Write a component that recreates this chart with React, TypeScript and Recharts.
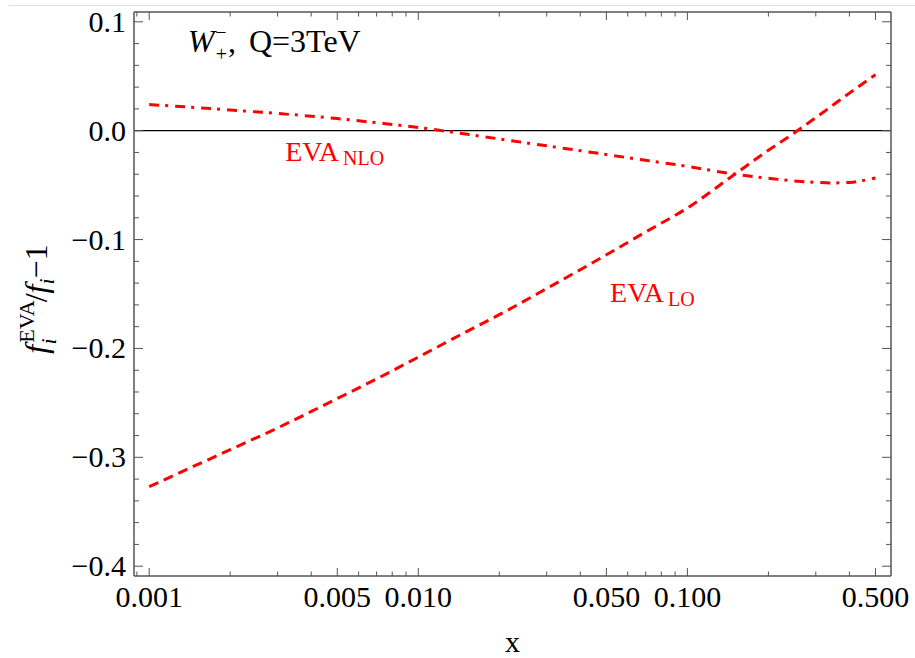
import {
  LineChart,
  Line,
  XAxis,
  YAxis,
  ReferenceLine,
  ReferenceDot,
} from 'recharts';

// x values (log axis) and the two ratio curves
const xs = [0.001, 0.0015, 0.002, 0.003, 0.005, 0.007, 0.01, 0.015, 0.02, 0.03, 0.05, 0.07, 0.1, 0.15, 0.2, 0.25, 0.3, 0.35, 0.4, 0.5];
const evaLO = [-0.327, -0.307, -0.293, -0.273, -0.246, -0.228, -0.208, -0.185, -0.169, -0.145, -0.114, -0.093, -0.071, -0.04, -0.018, -0.002, 0.012, 0.024, 0.0345, 0.0514];
const evaNLO = [0.024, 0.0212, 0.019, 0.0158, 0.0111, 0.0073, 0.003, -0.0031, -0.0076, -0.0139, -0.0219, -0.0272, -0.0328, -0.04, -0.0437, -0.0462, -0.0475, -0.048, -0.0475, -0.0434];

const xTicks = [
  0.0009, 0.001, 0.002, 0.003, 0.004, 0.005, 0.006, 0.007, 0.008, 0.009,
  0.01, 0.02, 0.03, 0.04, 0.05, 0.06, 0.07, 0.08, 0.09,
  0.1, 0.2, 0.3, 0.4, 0.5,
];
const xMajor = [0.001, 0.005, 0.01, 0.05, 0.1, 0.5];
const xMajorLabels = ['0.001', '0.005', '0.010', '0.050', '0.100', '0.500'];

const yTicks = [-0.4, -0.38, -0.36, -0.34, -0.32, -0.3, -0.28, -0.26, -0.24, -0.22, -0.2, -0.18, -0.16, -0.14, -0.12, -0.1, -0.08, -0.06, -0.04, -0.02, 0, 0.02, 0.04, 0.06, 0.08, 0.1];
const yMajor = [-0.4, -0.3, -0.2, -0.1, 0, 0.1];
const yMajorLabels = ['\u22120.4', '\u22120.3', '\u22120.2', '\u22120.1', '0.0', '0.1'];

const data = xs.map((x, i) => ({ x, lo: evaLO[i], nlo: evaNLO[i] }));

const FONT = '"Liberation Serif", "DejaVu Serif", serif';
const FRAME = '#555';
const RED = '#ff0000';

function makeXTick(side: 'bottom' | 'top') {
  return (props: any) => {
    const { x, y, payload } = props;
    const idx = xMajor.indexOf(payload.value);
    const len = idx >= 0 ? 8 : 4.5;
    const dir = side === 'bottom' ? -1 : 1;
    return (
      <g>
        <line x1={x} x2={x} y1={y} y2={y + dir * len} stroke={FRAME} strokeWidth={1} />
        {side === 'bottom' && idx >= 0 && (
          <text x={x} y={y + 31} textAnchor="middle" fontFamily={FONT} fontSize={30} fill="#000">
            {xMajorLabels[idx]}
          </text>
        )}
      </g>
    );
  };
}

function makeYTick(side: 'left' | 'right') {
  return (props: any) => {
    const { x, y, payload } = props;
    const idx = yMajor.indexOf(payload.value);
    const len = idx >= 0 ? 9 : 5;
    const dir = side === 'left' ? 1 : -1;
    return (
      <g>
        <line x1={x} x2={x + dir * len} y1={y} y2={y} stroke={FRAME} strokeWidth={1} />
        {side === 'left' && idx >= 0 && (
          <text x={x - 8} y={y + 10} textAnchor="end" fontFamily={FONT} fontSize={30} fill="#000">
            {yMajorLabels[idx]}
          </text>
        )}
      </g>
    );
  };
}

export default function App() {
  return (
    <div style={{ position: 'absolute', left: 0, top: 0, width: 915, height: 658, background: '#fff' }}>
      <div style={{ position: 'absolute', left: 9, right: 0, top: 5, borderTop: '1px solid #ddd' }} />
      <LineChart
        width={915}
        height={658}
        data={data}
        margin={{ top: 2, right: 14, bottom: 42, left: 74 }}
      >
        <XAxis
          dataKey="x"
          type="number"
          scale="log"
          domain={[0.000878, 0.571]}
          allowDataOverflow
          ticks={xTicks}
          interval={0}
          height={40}
          tickSize={0}
          tickMargin={0}
          tickLine={false}
          axisLine={{ stroke: FRAME, strokeWidth: 1.5 }}
          tick={makeXTick('bottom')}
          label={{
            content: (p: any) => (
              <text
                x={p.viewBox.x + p.viewBox.width / 2}
                y={p.viewBox.y + 76}
                textAnchor="middle"
                fontFamily={FONT}
                fontSize={30}
                fill="#000"
              >
                x
              </text>
            ),
          }}
        />
        <XAxis
          xAxisId="top"
          orientation="top"
          dataKey="x"
          type="number"
          scale="log"
          domain={[0.000878, 0.571]}
          allowDataOverflow
          ticks={xTicks}
          interval={0}
          height={10}
          tickSize={0}
          tickMargin={0}
          tickLine={false}
          axisLine={{ stroke: FRAME, strokeWidth: 1.5 }}
          tick={makeXTick('top')}
        />
        <YAxis
          type="number"
          domain={[-0.409, 0.109]}
          allowDataOverflow
          ticks={yTicks}
          interval={0}
          width={60}
          tickSize={0}
          tickMargin={0}
          tickLine={false}
          axisLine={{ stroke: FRAME, strokeWidth: 1.5 }}
          tick={makeYTick('left')}
          label={{
            content: (p: any) => {
              const bx = p.viewBox.x - 27;
              const cy = p.viewBox.y + p.viewBox.height / 2 + 5;
              return (
                <text
                  x={bx}
                  y={cy}
                  transform={`rotate(-90, ${bx}, ${cy})`}
                  textAnchor="middle"
                  fontFamily={FONT}
                  fontSize={32}
                  fill="#000"
                >
                  <tspan fontStyle="italic">f</tspan>
                  <tspan fontSize={22} dx={2} dy={-13}>EVA</tspan>
                  <tspan fontSize={22} fontStyle="italic" dx={-44} dy={22}>i</tspan>
                  <tspan dx={36} dy={-9}>/</tspan>
                  <tspan fontStyle="italic">f</tspan>
                  <tspan fontSize={22} fontStyle="italic" dy={7}>i</tspan>
                  <tspan dy={-7}>{'\u22121'}</tspan>
                </text>
              );
            },
          }}
        />
        <YAxis
          yAxisId="right"
          orientation="right"
          type="number"
          domain={[-0.409, 0.109]}
          allowDataOverflow
          ticks={yTicks}
          interval={0}
          width={10}
          tickSize={0}
          tickMargin={0}
          tickLine={false}
          axisLine={{ stroke: FRAME, strokeWidth: 1.5 }}
          tick={makeYTick('right')}
        />
        <ReferenceLine y={0} stroke="#000" strokeWidth={1.2} />
        <Line
          type="monotone"
          dataKey="nlo"
          stroke={RED}
          strokeWidth={3}
          strokeDasharray="10 6 3 7"
          dot={false}
          isAnimationActive={false}
        />
        <Line
          type="monotone"
          dataKey="lo"
          stroke={RED}
          strokeWidth={3}
          strokeDasharray="10 6"
          dot={false}
          isAnimationActive={false}
        />
        <ReferenceDot
          x={0.00139}
          y={0.0725}
          r={0}
          shape={(p: any) => (
            <text x={p.cx} y={p.cy} fontFamily={FONT} fontSize={32} fill="#000">
              <tspan fontStyle="italic">W</tspan>
              <tspan fontSize={20} dx={1} dy={-13}>{'\u2212'}</tspan>
              <tspan fontSize={20} dx={-11} dy={22}>+</tspan>
              <tspan dx={1} dy={-9}>,</tspan>
              <tspan dx={13}>Q=3TeV</tspan>
            </text>
          )}
        />
        <ReferenceDot
          x={0.0032}
          y={-0.028}
          r={0}
          shape={(p: any) => (
            <text x={p.cx} y={p.cy} fontFamily={FONT} fontSize={28} fill={RED}>
              EVA
              <tspan fontSize={20} dx={4} dy={4}>NLO</tspan>
            </text>
          )}
        />
        <ReferenceDot
          x={0.0516}
          y={-0.1575}
          r={0}
          shape={(p: any) => (
            <text x={p.cx} y={p.cy} fontFamily={FONT} fontSize={28} fill={RED}>
              EVA
              <tspan fontSize={20} dx={4} dy={4}>LO</tspan>
            </text>
          )}
        />
      </LineChart>
    </div>
  );
}
